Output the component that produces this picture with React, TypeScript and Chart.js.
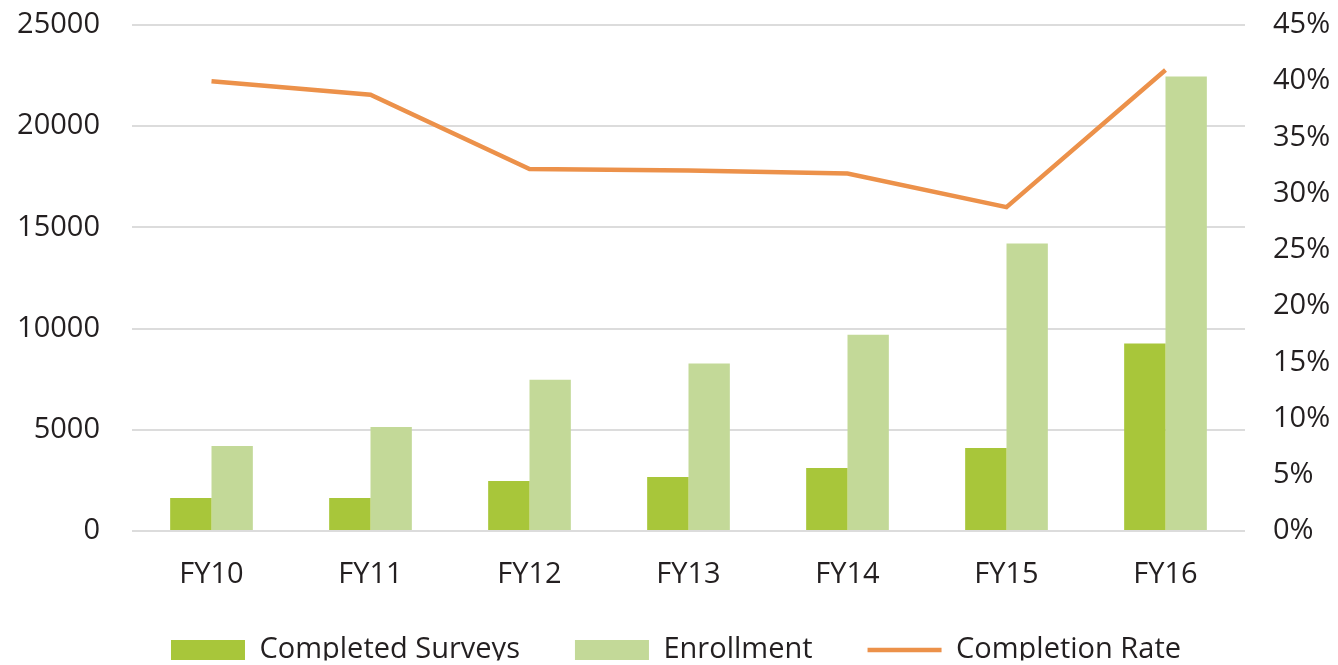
import React, { useEffect, useRef } from "react";
import { Chart, registerables } from "chart.js";

Chart.register(...registerables);

const categories = ["FY10", "FY11", "FY12", "FY13", "FY14", "FY15", "FY16"];
const completedSurveys = [1625, 1625, 2470, 2670, 3110, 4100, 9260];
const enrollment = [4200, 5140, 7470, 8270, 9700, 14200, 22460];
const completionRate = [0.4, 0.388, 0.322, 0.3205, 0.318, 0.288, 0.41];
const seriesNames = ["Completed Surveys", "Enrollment", "Completion Rate"];

const COLOR_COMPLETED = "#a8c63a";
const COLOR_ENROLL = "#c3d998";
const COLOR_RATE = "#ec914a";
const TEXT = "#231f20";
const FONT = "'Open Sans', sans-serif";

const LEGEND_PAD = 55;

const legendShift = {
  id: "legendShift",
  afterLayout(chart: any) {
    const lg = chart.legend;
    const x = chart.scales.x;
    if (!lg || !x) return;
    const h = lg.bottom - lg.top;
    lg.top = x.top + 650 - 531 - LEGEND_PAD - 14.5;
    lg.bottom = lg.top + h;
    lg.left += 14;
  },
};

export default function App() {
  const ref = useRef<HTMLCanvasElement | null>(null);
  useEffect(() => {
    document.body.style.margin = "0";
    const canvas = ref.current!;
    const chart = new Chart(canvas, {
      type: "bar",
      data: {
        labels: categories,
        datasets: [
          {
            type: "bar",
            label: seriesNames[0],
            data: completedSurveys,
            backgroundColor: COLOR_COMPLETED,
            yAxisID: "y",
            order: 2,
            categoryPercentage: 0.52,
            barPercentage: 1,
          },
          {
            type: "bar",
            label: seriesNames[1],
            data: enrollment,
            backgroundColor: COLOR_ENROLL,
            yAxisID: "y",
            order: 2,
            categoryPercentage: 0.52,
            barPercentage: 1,
          },
          {
            type: "line",
            label: seriesNames[2],
            data: completionRate,
            borderColor: COLOR_RATE,
            backgroundColor: COLOR_RATE,
            borderWidth: 4.5,
            pointRadius: 0,
            tension: 0,
            yAxisID: "y1",
            order: 1,
          } as any,
        ],
      },
      plugins: [legendShift],
      options: {
        animation: false,
        responsive: false,
        layout: { padding: { top: 25, bottom: 0, left: 0, right: 0 } },
        plugins: {
          tooltip: { enabled: false },
          legend: {
            position: "bottom",
            maxHeight: 80,
            labels: {
              font: { family: FONT, size: 29 },
              color: TEXT,
              usePointStyle: true,
              pointStyleWidth: 74,
              boxHeight: 20,
              padding: LEGEND_PAD,
              sort: (a: any, b: any) => a.datasetIndex - b.datasetIndex,
              generateLabels: (c: any) => {
                const items = Chart.defaults.plugins.legend.labels.generateLabels(c);
                return items.map((it: any) => {
                  if (it.datasetIndex === 2) {
                    return { ...it, pointStyle: "line", strokeStyle: COLOR_RATE, fillStyle: COLOR_RATE, lineWidth: 4.5 };
                  }
                  return { ...it, pointStyle: "rect", lineWidth: 0, strokeStyle: "transparent" };
                });
              },
            },
          } as any,
        },
        scales: {
          x: {
            grid: { display: false, drawTicks: false },
            border: { display: false },
            ticks: { font: { family: FONT, size: 29 }, color: TEXT, padding: 26 },
            afterFit: (s: any) => {
              s.height = 70;
            },
          },
          y: {
            position: "left",
            min: 0,
            max: 25000,
            ticks: {
              stepSize: 5000,
              font: { family: FONT, size: 29 },
              color: TEXT,
              padding: 32,
              callback: (v: any) => String(v),
            },
            grid: { color: "#dcdcdc", lineWidth: 2, drawTicks: false },
            border: { display: false },
            afterFit: (s: any) => {
              s.width = 132;
              s.paddingTop = 0;
              s.paddingBottom = 0;
            },
          },
          y1: {
            position: "right",
            min: 0,
            max: 0.45,
            ticks: {
              stepSize: 0.05,
              font: { family: FONT, size: 29 },
              color: TEXT,
              padding: 28,
              callback: (v: any) => Math.round(Number(v) * 100) + "%",
            },
            grid: { display: false, drawTicks: false },
            border: { display: false },
            afterFit: (s: any) => {
              s.width = 93;
              s.paddingTop = 0;
              s.paddingBottom = 0;
            },
          },
        },
      } as any,
    });
    return () => chart.destroy();
  }, []);
  return (
    <div style={{ position: "fixed", left: 0, top: 0, width: 1338, height: 665, overflow: "hidden", background: "#fff" }}>
      <canvas ref={ref} width={1338} height={681} style={{ display: "block" }} />
    </div>
  );
}
